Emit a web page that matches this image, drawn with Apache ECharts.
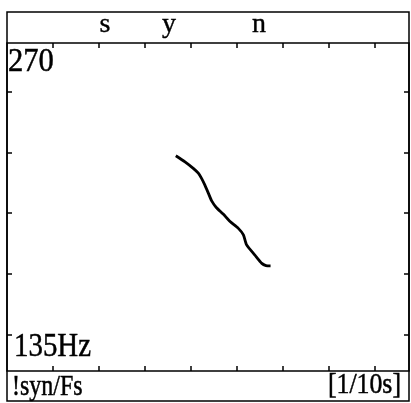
<!DOCTYPE html>
<html>
<head>
<meta charset="utf-8">
<script src="https://cdn.jsdelivr.net/npm/echarts@6/dist/echarts.min.js"></script>
<style>
html,body{margin:0;padding:0;background:#fff;}
#chart{width:411px;height:403px;}
</style>
</head>
<body>
<div id="chart"></div>
<script>
// ---- data ----
const segLabels = ['s', 'y', 'n'];
const segTimes = [2.13, 3.52, 5.48];            // in 1/10 s
const timeTicks = [1, 2, 3, 4, 5, 6, 7, 8];      // 1/10 s
const freqTicks = [150, 175, 200, 225, 250];     // Hz
const timeMin = 0, timeMax = 8.74;
const freqMin = 135, freqMax = 270;
const pitchTime = [3.67, 3.87, 4.05, 4.16, 4.23, 4.30, 4.38, 4.45, 4.55, 4.70, 4.85, 5.03, 5.14, 5.21, 5.39, 5.54, 5.63, 5.73];
const pitchHz   = [223.6, 221.1, 218.4, 216.4, 214.3, 211.6, 208.1, 205.0, 202.3, 199.6, 196.5, 193.7, 191.0, 186.9, 182.7, 179.3, 178.4, 178.3];
const topLeftLabel = '270';
const bottomLeftLabel = '135Hz';
const footLeft = '!syn/Fs';
const footRight = '[1/10s]';

const FONT = '"Liberation Serif", "Times New Roman", serif';
const chart = echarts.init(document.getElementById('chart'), null, {renderer: 'canvas'});

function yAxisOpt(pos) {
  return {
    type: 'value', min: freqMin, max: freqMax, position: pos,
    axisLine: {show: false, onZero: false}, splitLine: {show: false},
    axisLabel: {show: false},
    axisTick: {show: true, inside: true, length: 5, customValues: freqTicks.slice(),
               lineStyle: {color: '#000', width: 1.5}}
  };
}
function xAxisOpt(pos) {
  return {
    type: 'value', min: timeMin, max: timeMax, position: pos,
    axisLine: {show: false, onZero: false}, splitLine: {show: false},
    axisLabel: {show: false},
    axisTick: {show: true, inside: true, length: 5, customValues: timeTicks.slice(),
               lineStyle: {color: '#000', width: 1.5}}
  };
}
const xTop = xAxisOpt('top');
xTop.axisLabel = {show: true, customValues: segTimes, margin: 4,
  fontFamily: FONT, fontSize: 28, lineHeight: 28, color: '#000',
  textBorderColor: '#000', textBorderWidth: 0.4,
  formatter: function (v) {
    const i = segTimes.indexOf(v);
    return i >= 0 ? segLabels[i] : '';
  }};

const txt = (text, x, y, size, sx, align) => ({
  type: 'text', x: x, y: y, scaleX: sx, silent: true,
  style: {text: text, font: size + 'px ' + FONT, fill: '#000', stroke: '#000', lineWidth: 0.5,
          align: align, verticalAlign: 'middle'}
});

chart.setOption({
  animation: false,
  backgroundColor: '#fff',
  grid: {left: 7, right: 2, top: 43, bottom: 32, show: true,
         borderColor: '#000', borderWidth: 1.5, backgroundColor: 'transparent'},
  xAxis: [xAxisOpt('bottom'), xTop],
  yAxis: [yAxisOpt('left'), yAxisOpt('right')],
  series: [{
    type: 'line',
    xAxisIndex: 0, yAxisIndex: 0,
    data: pitchTime.map((t, i) => [t, pitchHz[i]]),
    showSymbol: false, symbol: 'none',
    smooth: 0.2,
    lineStyle: {color: '#000', width: 2.8}
  }],
  graphic: [
    {type: 'rect', shape: {x: 7, y: 12, width: 402, height: 389}, silent: true,
     style: {fill: null, stroke: '#000', lineWidth: 1.5}},
    txt(topLeftLabel, 8, 62, 34, 0.9, 'left'),
    txt(bottomLeftLabel, 14, 347, 34, 0.85, 'left'),
    txt(footLeft, 12, 387, 30, 0.8, 'left'),
    txt(footRight, 401, 385, 30, 0.86, 'right')
  ]
});
</script>
</body>
</html>
